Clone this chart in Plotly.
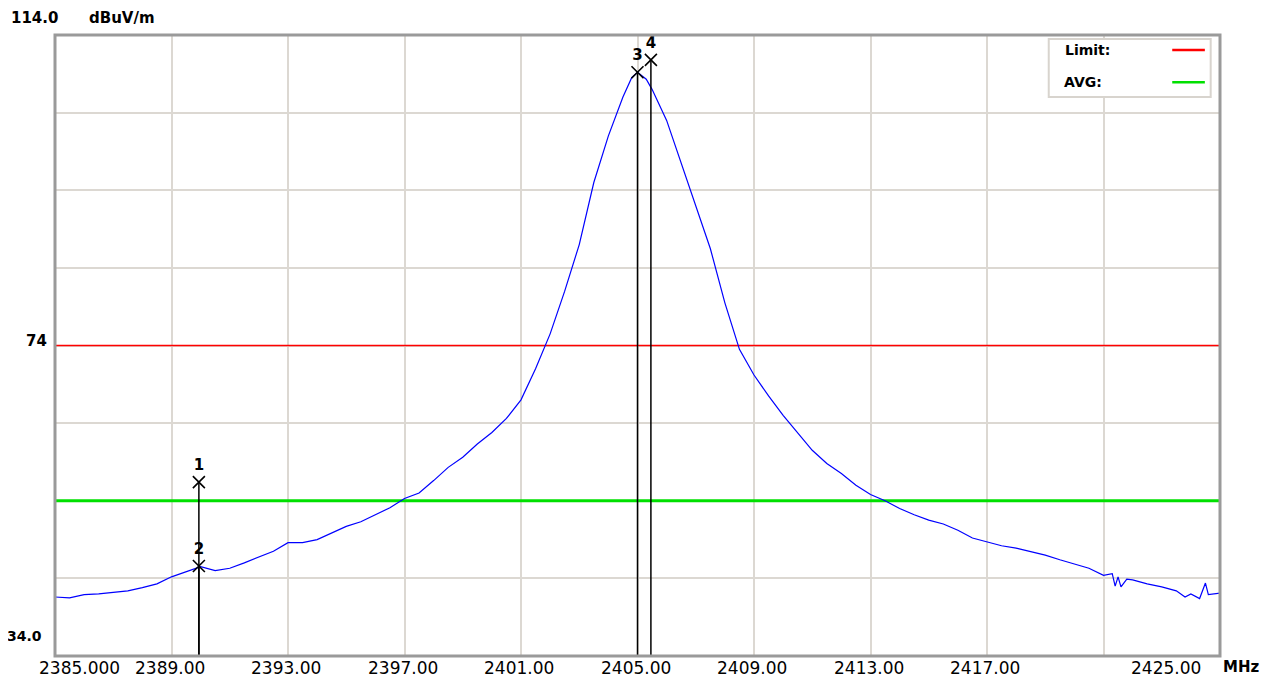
import plotly.graph_objects as go

# ---------------- data ----------------
freq_mhz = [2385.0, 2385.5, 2386.0, 2386.5, 2387.0, 2387.5, 2388.0, 2388.5, 2389.0, 2389.5,
            2390.0, 2390.5, 2391.0, 2391.5, 2392.0, 2392.5, 2393.0, 2393.5, 2394.0, 2394.5,
            2395.0, 2395.5, 2396.0, 2396.5, 2397.0, 2397.5, 2398.0, 2398.5, 2399.0, 2399.5,
            2400.0, 2400.5, 2401.0, 2401.5, 2402.0, 2402.5, 2403.0, 2403.5, 2404.0, 2404.5,
            2404.8, 2405.0, 2405.3, 2405.5, 2406.0, 2406.5, 2407.0, 2407.5, 2408.0, 2408.5,
            2409.0, 2409.5, 2410.0, 2410.5, 2411.0, 2411.5, 2412.0, 2412.5, 2413.0, 2413.5,
            2414.0, 2414.5, 2415.0, 2415.5, 2416.0, 2416.5, 2417.0, 2417.5, 2418.0, 2418.5,
            2419.0, 2419.5, 2420.0, 2420.5, 2421.0, 2421.3, 2421.4, 2421.5, 2421.6, 2421.8,
            2422.0, 2422.5, 2423.0, 2423.5, 2423.8, 2424.0, 2424.3, 2424.5, 2424.6, 2425.0]
level_dbuv = [41.6, 41.5, 41.9, 42.0, 42.2, 42.4, 42.8, 43.3, 44.2, 44.8,
              45.5, 45.0, 45.3, 46.0, 46.8, 47.5, 48.6, 48.6, 49.0, 49.8,
              50.7, 51.3, 52.2, 53.1, 54.3, 55.0, 56.6, 58.3, 59.6, 61.3,
              62.8, 64.6, 67.0, 71.0, 75.5, 81.0, 87.0, 95.0, 101.0, 106.0,
              108.5, 109.2, 108.3, 107.0, 103.0, 97.5, 92.0, 86.5, 79.5, 73.5,
              70.2, 67.5, 65.0, 62.8, 60.5, 58.8, 57.5, 56.0, 54.8, 54.0,
              53.0, 52.2, 51.5, 51.0, 50.2, 49.2, 48.7, 48.2, 47.9, 47.4,
              47.0, 46.4, 45.8, 45.3, 44.4, 44.6, 43.0, 44.2, 42.9, 43.9,
              43.8, 43.3, 42.9, 42.4, 41.6, 42.0, 41.4, 43.4, 41.9, 42.1]

limit_level = 74.0
avg_level = 54.0

marker_ids = ["1", "2", "3", "4"]
marker_freq = [2389.94, 2389.94, 2405.00, 2405.46]
marker_level = [56.4, 45.6, 109.2, 110.8]

x_min, x_max = 2385.0, 2425.0
y_min, y_max = 34.0, 114.0
x_grid_vals = [2389, 2393, 2397, 2401, 2405, 2409, 2413, 2417, 2421]
x_tick_vals = [2389, 2393, 2397, 2401, 2405, 2409, 2413, 2417]
x_tick_text = ["2389.00", "2393.00", "2397.00", "2401.00", "2405.00", "2409.00", "2413.00", "2417.00"]
y_grid_vals = [44, 54, 64, 74, 84, 94, 104]

# ---------------- figure ----------------
fig = go.Figure()

# limit and AVG lines
fig.add_trace(go.Scatter(x=[x_min, x_max], y=[limit_level, limit_level], mode="lines",
                         line=dict(color="#ff0000", width=1.5), hoverinfo="skip"))
fig.add_trace(go.Scatter(x=[x_min, x_max], y=[avg_level, avg_level], mode="lines",
                         line=dict(color="#00e000", width=3), hoverinfo="skip"))

# spectrum trace
fig.add_trace(go.Scatter(x=freq_mhz, y=level_dbuv, mode="lines",
                         line=dict(color="#0000ff", width=1.2)))

# marker vertical lines
for f, lv in zip(marker_freq, marker_level):
    fig.add_trace(go.Scatter(x=[f, f], y=[lv, y_min], mode="lines",
                             line=dict(color="black", width=1.5), hoverinfo="skip"))

# marker crosses with labels
fig.add_trace(go.Scatter(x=marker_freq, y=marker_level, mode="markers+text",
                         text=["<b>%s</b>" % m for m in marker_ids], textposition="top center",
                         textfont=dict(family="DejaVu Sans", size=15, color="black"),
                         marker=dict(symbol="x-thin", size=12,
                                     line=dict(color="black", width=1.6), color="black")))

tick_font = dict(family="DejaVu Sans", size=17, color="black")
annotations = []
for v, t in zip(x_tick_vals, x_tick_text):
    annotations.append(dict(x=v, y=0, xref="x", yref="paper", text=t, showarrow=False,
                            xanchor="center", yanchor="top", yshift=0, xshift=-2,
                            font=tick_font))
annotations.append(dict(x=x_min, y=0, xref="x", yref="paper", text="2385.000", showarrow=False,
                        xanchor="left", yanchor="top", yshift=0, xshift=-18, font=tick_font))
annotations.append(dict(x=x_max, y=0, xref="x", yref="paper", text="2425.00", showarrow=False,
                        xanchor="right", yanchor="top", yshift=0, xshift=-17, font=tick_font))
annotations.append(dict(x=x_max, y=0, xref="x", yref="paper", text="<b>MHz</b>", showarrow=False,
                        xanchor="left", yanchor="top", yshift=0, xshift=1,
                        font=dict(family="DejaVu Sans", size=15, color="black")))

# y labels
bold = dict(family="DejaVu Sans", size=15, color="black")
annotations.append(dict(x=0, y=y_max, xref="paper", yref="y", text="<b>114.0</b>", showarrow=False,
                        xanchor="right", yanchor="middle", xshift=5, yshift=17, font=bold))
annotations.append(dict(x=0, y=y_max, xref="paper", yref="y", text="<b>dBuV/m</b>", showarrow=False,
                        xanchor="left", yanchor="middle", xshift=32, yshift=17, font=bold))
annotations.append(dict(x=0, y=limit_level, xref="paper", yref="y", text="<b>74</b>", showarrow=False,
                        xanchor="right", yanchor="middle", xshift=-6, yshift=5, font=bold))
annotations.append(dict(x=0, y=y_min, xref="paper", yref="y", text="<b>34.0</b>", showarrow=False,
                        xanchor="right", yanchor="middle", xshift=-11, yshift=20,
                        font=dict(family="DejaVu Sans", size=14, color="black")))

# legend box
legend_font = dict(family="DejaVu Sans", size=14, color="black")
annotations.append(dict(x=0.865, y=0.976, xref="paper", yref="paper", text="<b>Limit:</b>",
                        showarrow=False, xanchor="left", yanchor="middle", font=legend_font))
annotations.append(dict(x=0.864, y=0.924, xref="paper", yref="paper", text="<b>AVG:</b>",
                        showarrow=False, xanchor="left", yanchor="middle", font=legend_font))

shapes = [
    dict(type="rect", xref="paper", yref="paper", x0=0.853, x1=0.992, y0=0.900, y1=0.9936,
         line=dict(color="#d8d4ce", width=2), fillcolor="white", layer="above"),
    dict(type="line", xref="paper", yref="paper", x0=0.959, x1=0.987, y0=0.976, y1=0.976,
         line=dict(color="#ff0000", width=2.5), layer="above"),
    dict(type="line", xref="paper", yref="paper", x0=0.959, x1=0.987, y0=0.924, y1=0.924,
         line=dict(color="#00e000", width=2.5), layer="above"),
    # plot frame
    dict(type="rect", xref="paper", yref="paper", x0=0, x1=1, y0=0, y1=1,
         line=dict(color="#9a9a9a", width=3), layer="above"),
]

fig.update_layout(
    width=1257, height=670,
    margin=dict(l=47, r=45, t=27, b=22),
    paper_bgcolor="white", plot_bgcolor="white",
    showlegend=False,
    annotations=annotations,
    shapes=shapes,
    xaxis=dict(range=[x_min, x_max], tickvals=x_grid_vals, showticklabels=False,
               showgrid=True, gridcolor="#dcd8d2", gridwidth=1.5, zeroline=False,
               showline=False, ticks=""),
    yaxis=dict(range=[y_min, y_max], tickvals=y_grid_vals, showticklabels=False,
               showgrid=True, gridcolor="#dcd8d2", gridwidth=1.5, zeroline=False,
               showline=False, ticks=""),
)

fig.write_html("out.html")
